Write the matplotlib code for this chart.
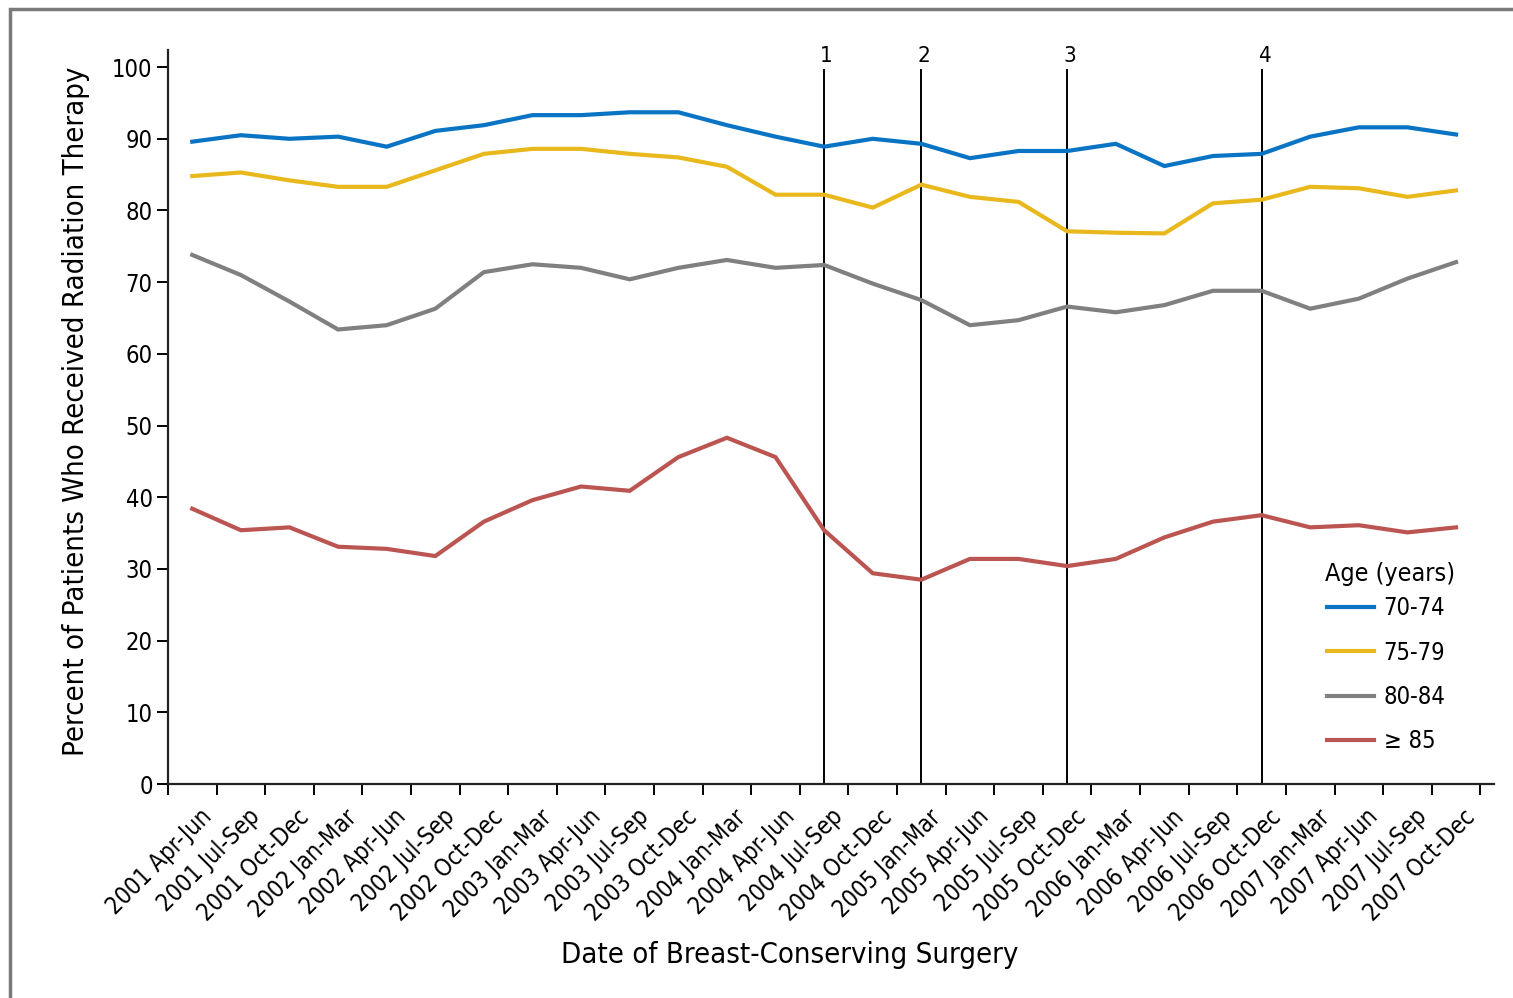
import matplotlib
matplotlib.use("Agg")
import matplotlib.pyplot as plt
import matplotlib.transforms as mtransforms
from matplotlib.patches import Rectangle
import numpy as np

plt.rcParams['font.family'] = ['DejaVu Sans']
plt.rcParams['font.stretch'] = 'condensed'

# Quarterly periods of surgery
periods = [
    "2001 Apr-Jun", "2001 Jul-Sep", "2001 Oct-Dec",
    "2002 Jan-Mar", "2002 Apr-Jun", "2002 Jul-Sep", "2002 Oct-Dec",
    "2003 Jan-Mar", "2003 Apr-Jun", "2003 Jul-Sep", "2003 Oct-Dec",
    "2004 Jan-Mar", "2004 Apr-Jun", "2004 Jul-Sep", "2004 Oct-Dec",
    "2005 Jan-Mar", "2005 Apr-Jun", "2005 Jul-Sep", "2005 Oct-Dec",
    "2006 Jan-Mar", "2006 Apr-Jun", "2006 Jul-Sep", "2006 Oct-Dec",
    "2007 Jan-Mar", "2007 Apr-Jun", "2007 Jul-Sep", "2007 Oct-Dec",
]

# Percent receiving radiation therapy by age group
age_70_74 = [89.6, 90.5, 90.0, 90.3, 88.9, 91.1, 91.9, 93.3, 93.3, 93.7, 93.7, 91.9, 90.3, 88.9,
             90.0, 89.3, 87.3, 88.3, 88.3, 89.3, 86.2, 87.6, 87.9, 90.3, 91.6, 91.6, 90.6]
age_75_79 = [84.8, 85.3, 84.2, 83.3, 83.3, 85.6, 87.9, 88.6, 88.6, 87.9, 87.4, 86.1, 82.2, 82.2,
             80.4, 83.6, 81.9, 81.2, 77.1, 76.9, 76.8, 81.0, 81.5, 83.3, 83.1, 81.9, 82.8]
age_80_84 = [73.8, 71.0, 67.3, 63.4, 64.0, 66.3, 71.4, 72.5, 72.0, 70.4, 72.0, 73.1, 72.0, 72.4,
             69.8, 67.5, 64.0, 64.7, 66.6, 65.8, 66.8, 68.8, 68.8, 66.3, 67.7, 70.5, 72.8]
age_85_up = [38.4, 35.4, 35.8, 33.1, 32.8, 31.8, 36.6, 39.6, 41.5, 40.9, 45.6, 48.3, 45.6, 35.4,
             29.4, 28.5, 31.4, 31.4, 30.4, 31.4, 34.4, 36.6, 37.5, 35.8, 36.1, 35.1, 35.8]

series_labels = ["70-74", "75-79", "80-84", "\u2265 85"]
series_colors = ["#0a74c4", "#e8b81c", "#808080", "#bb5552"]

# Event markers (numbered vertical lines)
event_labels = ["1", "2", "3", "4"]
event_periods = ["2004 Jul-Sep", "2005 Jan-Mar", "2005 Oct-Dec", "2006 Oct-Dec"]

fig = plt.figure(figsize=(15.13, 9.98), dpi=100)
ax = fig.add_axes([0.111, 0.2144, 0.8764, 0.7356])

x = np.arange(len(periods))
for vals, lab, col in zip([age_70_74, age_75_79, age_80_84, age_85_up], series_labels, series_colors):
    ax.plot(x, vals, color=col, lw=3, label=lab, solid_joinstyle='miter')

for lab, per in zip(event_labels, event_periods):
    xi = periods.index(per)
    ax.plot([xi, xi], [0, 99.6], color='black', lw=1.4, zorder=1)
    ax.text(xi + 0.05, 101.6, lab, ha='center', va='center', fontsize=16)

ax.set_xlim(-0.48, 26.78)
ax.set_ylim(0, 102.4)

for side in ['top', 'right']:
    ax.spines[side].set_visible(False)
for side in ['left', 'bottom']:
    ax.spines[side].set_linewidth(1.6)
    ax.spines[side].set_color('#222222')

ax.set_yticks(np.arange(0, 101, 10))
ax.tick_params(axis='y', direction='out', length=8, width=1.4, labelsize=17, pad=3)

# ticks at period boundaries, labels under each period
ax.set_xticks(np.arange(-0.5, len(periods), 1.0))
ax.set_xticklabels([])
ax.tick_params(axis='x', direction='out', length=8, width=1.4)
ax.set_xticks(x, minor=True)
ax.set_xticklabels(periods, minor=True, rotation=45, ha='right', va='top', fontsize=17)
ax.tick_params(axis='x', which='minor', length=0, pad=15)
offset = mtransforms.ScaledTranslation(0.24, 0, fig.dpi_scale_trans)
for t in ax.get_xticklabels(minor=True):
    t.set_transform(t.get_transform() + offset)

ax.set_ylabel("Percent of Patients Who Received Radiation Therapy", fontsize=21)
ax.yaxis.set_label_coords(-0.0587, 0.508)
ax.set_xlabel("Date of Breast-Conserving Surgery", fontsize=21)
ax.xaxis.set_label_coords(0.469, -0.214)

# legend with its heading drawn separately
leg = ax.legend(loc='lower left', bbox_to_anchor=(0.858, 0.013),
                frameon=False, fontsize=17, handlelength=2.0,
                handletextpad=0.4, labelspacing=0.86)
ax.text(0.8725, 0.2865, "Age (years)", transform=ax.transAxes, fontsize=18,
        ha='left', va='center')

# outer frame
fig.patches.append(Rectangle((10 / 1513, -0.05), 1.2, 0.05 + 1 - 9 / 998,
                             transform=fig.transFigure, fill=False,
                             edgecolor='#7a7a7a', lw=2.5))

fig.savefig("out.png", dpi=100)
